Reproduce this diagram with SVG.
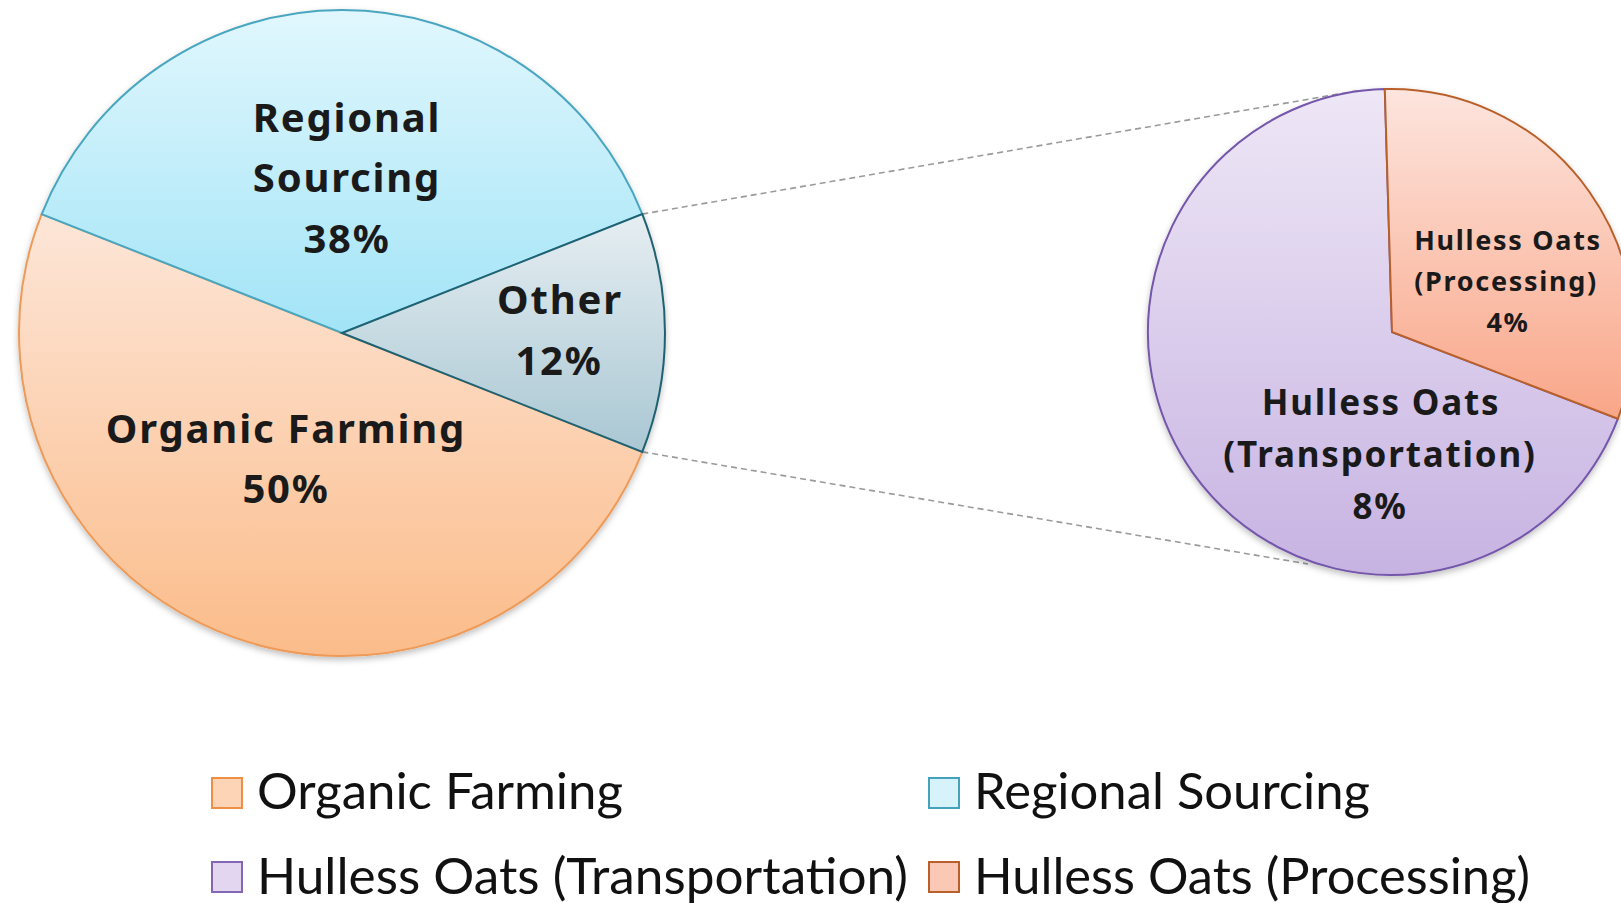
<svg xmlns="http://www.w3.org/2000/svg" width="1621" height="903" viewBox="0 0 1621 903">
<defs>
<linearGradient id="gOrg" x1="0" y1="0" x2="0" y2="1"><stop offset="0" stop-color="#FDE6D8"/><stop offset="1" stop-color="#FBBC8A"/></linearGradient>
<linearGradient id="gReg" x1="0" y1="0" x2="0" y2="1"><stop offset="0" stop-color="#E1F7FD"/><stop offset="1" stop-color="#A2E4F7"/></linearGradient>
<linearGradient id="gOth" x1="0" y1="0" x2="0" y2="1"><stop offset="0" stop-color="#E6EEF2"/><stop offset="1" stop-color="#A9C7D3"/></linearGradient>
<linearGradient id="gTra" x1="0" y1="0" x2="0" y2="1"><stop offset="0" stop-color="#EEE7F6"/><stop offset="1" stop-color="#C7B3E2"/></linearGradient>
<linearGradient id="gPro" x1="0" y1="0" x2="0" y2="1"><stop offset="0" stop-color="#FDE5DE"/><stop offset="1" stop-color="#F9A688"/></linearGradient>
<filter id="sh" x="-10%" y="-10%" width="120%" height="125%"><feDropShadow dx="0" dy="3" stdDeviation="3" flood-color="#000" flood-opacity="0.25"/></filter>
</defs>
<style>
.lbl{font-family:"Noto Sans","Open Sans",sans-serif;font-weight:700;fill:#1a1a1a;text-anchor:middle}
.big{font-size:40px;letter-spacing:1.8px}
.mid{font-size:35px;letter-spacing:1.8px}
.sm{font-size:27px;letter-spacing:1.7px}
.leg{font-family:Lato,"Open Sans",sans-serif;font-size:50px;fill:#111}
.conn{fill:none;stroke:#9a9a9a;stroke-width:1.6;stroke-dasharray:6 4}
</style>
<g id="connectors">
<path class="conn" d="M642.3 214.1 L1362 90"/>
<path class="conn" d="M642.3 451.9 L1308 564"/>
</g>
<g id="pie-main" filter="url(#sh)">
<g id="slice-organic"><path d="M342 333 L41.7 214.1 A323 323 0 0 0 342 656 A323 323 0 0 0 642.3 451.9 Z" fill="url(#gOrg)" stroke="#EE9A58" stroke-width="2"/></g>
<g id="slice-regional"><path d="M342 333 L642.3 214.1 A323 323 0 0 0 41.7 214.1 Z" fill="url(#gReg)" stroke="#4AA6C0" stroke-width="2"/></g>
<g id="slice-other"><path d="M342 333 L642.3 451.9 A323 323 0 0 0 642.3 214.1 Z" fill="url(#gOth)" stroke="#1F6272" stroke-width="2"/></g>
</g>
<g id="pie-sub" filter="url(#sh)">
<g id="slice-transport"><path d="M1392 332 L1617.9 418.7 A243 243 0 1 1 1384.8 89.1 Z" fill="url(#gTra)" stroke="#7456AA" stroke-width="2"/></g>
<g id="slice-processing"><path d="M1392 332 L1384.8 89.1 A243 243 0 0 1 1617.9 418.7 Z" fill="url(#gPro)" stroke="#B9612B" stroke-width="2"/></g>
</g>
<g id="labels">
<text class="lbl big" x="347" y="132">Regional</text>
<text class="lbl big" x="347" y="192">Sourcing</text>
<text class="lbl big" x="347" y="253">38%</text>
<text class="lbl big" x="560" y="314">Other</text>
<text class="lbl big" x="559" y="375">12%</text>
<text class="lbl big" x="286" y="443">Organic Farming</text>
<text class="lbl big" x="286" y="503">50%</text>
<text class="lbl mid" x="1381" y="415">Hulless Oats</text>
<text class="lbl mid" x="1380" y="467">(Transportation)</text>
<text class="lbl mid" x="1380" y="519">8%</text>
<text class="lbl sm" x="1508" y="250">Hulless Oats</text>
<text class="lbl sm" x="1506" y="291">(Processing)</text>
<text class="lbl sm" x="1508" y="332">4%</text>
</g>
<g id="legend">
<g id="leg-organic"><rect x="212" y="778" width="30" height="30" fill="#FDD4B6" stroke="#EE8F45" stroke-width="2"/><text class="leg" x="257" y="809" textLength="366" lengthAdjust="spacingAndGlyphs">Organic Farming</text></g>
<g id="leg-regional"><rect x="929" y="778" width="30" height="30" fill="#D6F3FB" stroke="#44A2BC" stroke-width="2"/><text class="leg" x="974" y="809" textLength="396" lengthAdjust="spacingAndGlyphs">Regional Sourcing</text></g>
<g id="leg-transport"><rect x="212" y="862" width="30" height="30" fill="#E2D6F0" stroke="#8467B4" stroke-width="2"/><text class="leg" x="257" y="894" textLength="651" lengthAdjust="spacingAndGlyphs">Hulless Oats (Transportation)</text></g>
<g id="leg-processing"><rect x="929" y="862" width="30" height="30" fill="#FBC8B6" stroke="#B95F2C" stroke-width="2"/><text class="leg" x="974" y="894" textLength="556" lengthAdjust="spacingAndGlyphs">Hulless Oats (Processing)</text></g>
</g>
</svg>
